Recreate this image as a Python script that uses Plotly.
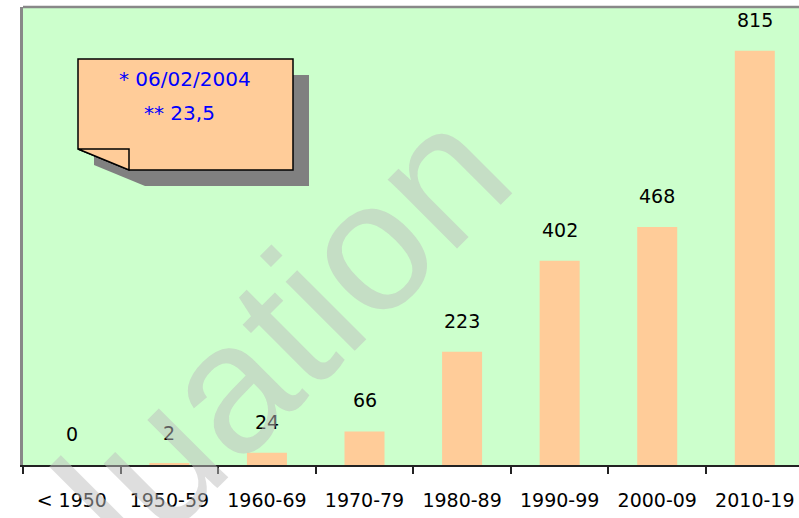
import plotly.graph_objects as go

categories = ["< 1950", "1950-59", "1960-69", "1970-79", "1980-89", "1990-99", "2000-09", "2010-19"]
values = [0, 2, 24, 66, 223, 402, 468, 815]
note_lines = ["* 06/02/2004", "** 23,5"]
watermark = "Evaluation"

W, H = 799, 518
L, T, B, R = 23, 7, 465, 799


def px(x):
    return (x - L) / (R - L)


def py(y):
    return (B - y) / (B - T)


def path(points):
    return "M " + " L ".join(f"{px(x):.5f},{py(y):.5f}" for x, y in points) + " Z"


FONT = "DejaVu Sans"

fig = go.Figure()
fig.add_trace(go.Bar(
    x=categories, y=values, width=0.41,
    marker=dict(color="#FFCC99", line=dict(width=0)),
    hoverinfo="skip",
))

annotations = []
for c, v in zip(categories, values):
    annotations.append(dict(
        x=c, y=v, xref="x", yref="y", text=str(v), showarrow=False,
        yshift=31, font=dict(family=FONT, size=19, color="#000000"),
    ))

annotations.append(dict(x=px(185), y=py(79), xref="paper", yref="paper", text=note_lines[0],
                        xanchor="center", yanchor="middle", showarrow=False,
                        font=dict(family=FONT, size=20, color="#0000FF")))
annotations.append(dict(x=px(179), y=py(113), xref="paper", yref="paper", text=note_lines[1],
                        xanchor="center", yanchor="middle", showarrow=False,
                        font=dict(family=FONT, size=20, color="#0000FF")))

annotations.append(dict(
    x=px(170), y=py(445), xref="paper", yref="paper", text=watermark, showarrow=False,
    textangle=-45, xanchor="center", yanchor="middle",
    font=dict(family="Liberation Sans", size=185, color="rgba(190,190,190,0.5)"),
))

shapes = [
    # note shadow
    dict(type="path", xref="paper", yref="paper",
         path=path([(94, 75), (309, 75), (309, 186), (145, 186), (94, 165)]),
         fillcolor="#808080", line=dict(width=0)),
    # note body
    dict(type="path", xref="paper", yref="paper",
         path=path([(78, 59), (293, 59), (293, 170), (129, 170), (78, 149)]),
         fillcolor="#FFCC99", line=dict(color="#000000", width=1.5)),
    # folded corner
    dict(type="path", xref="paper", yref="paper",
         path=path([(78, 149), (129, 149), (129, 170)]),
         fillcolor="#FFCC99", line=dict(color="#000000", width=1.5)),
    # top border
    dict(type="line", xref="paper", yref="paper", x0=0, x1=1, y0=1, y1=1,
         line=dict(color="#888888", width=2.5)),
]

fig.update_layout(
    width=W, height=H,
    margin=dict(l=L, r=W - R, t=T, b=H - B, pad=0),
    paper_bgcolor="#FFFFFF", plot_bgcolor="#CCFFCC",
    showlegend=False, bargap=0.59,
    annotations=annotations, shapes=shapes,
    xaxis=dict(
        type="category", range=[-0.5, 7.453], showgrid=False, zeroline=False,
        showline=True, linecolor="#222222", linewidth=2,
        ticks="outside", tickson="boundaries", ticklen=7, tickwidth=1.5, tickcolor="#222222",
        ticklabelstandoff=17,
        tickfont=dict(family=FONT, size=19, color="#000000"),
    ),
    yaxis=dict(
        range=[0, 901], showgrid=False, zeroline=False, showticklabels=False,
        showline=True, linecolor="#888888", linewidth=3, ticks="",
    ),
)

fig.write_html(
    "out.html",
    config={"displayModeBar": False},
    post_script=("document.body.style.margin='0px';"
                 "document.documentElement.style.overflow='hidden';"
                 "document.body.style.overflow='hidden';"),
)
